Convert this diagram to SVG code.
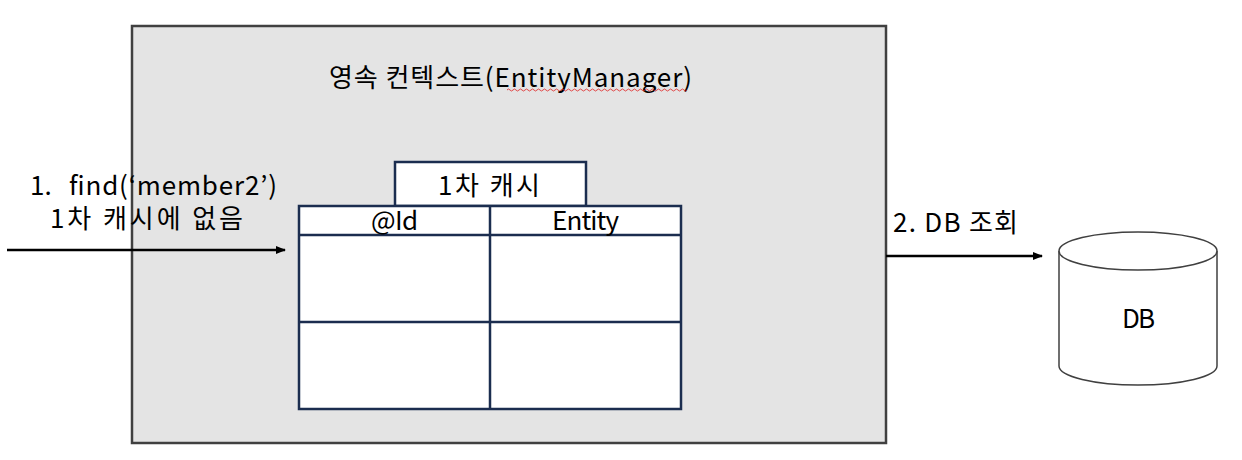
<svg xmlns="http://www.w3.org/2000/svg" width="1242" height="460" viewBox="0 0 1242 460">
<style>
text{font-family:"Noto Sans CJK KR","Noto Sans",sans-serif;font-size:26px;fill:#000}
.tbl{fill:#fff;stroke:#1b2d4f;stroke-width:2.5}
.ln{stroke:#1b2d4f;stroke-width:2.5;fill:none}
.conn{stroke:#000;stroke-width:2.5;fill:none}
</style>
<defs>
<marker id="ah" markerWidth="10" markerHeight="8" refX="9" refY="4" orient="auto" markerUnits="userSpaceOnUse">
<path d="M0,0 L10,4 L0,8 Z" fill="#000"/>
</marker>
</defs>
<rect width="1242" height="460" fill="#fff"/>
<g id="context">
<rect x="132" y="26" width="754" height="417" fill="#e4e4e4" stroke="#404040" stroke-width="2.5"/>
<text x="329" y="87" textLength="363">영속 컨텍스트(EntityManager)</text>
<path d="M507,90 q1.5,-2 3,0 t3,0 t3,0 t3,0 t3,0 t3,0 t3,0 t3,0 t3,0 t3,0 t3,0 t3,0 t3,0 t3,0 t3,0 t3,0 t3,0 t3,0 t3,0 t3,0 t3,0 t3,0 t3,0 t3,0 t3,0 t3,0 t3,0 t3,0 t3,0 t3,0 t3,0 t3,0 t3,0 t3,0 t3,0 t3,0 t3,0 t3,0 t3,0 t3,0 t3,0 t3,0 t3,0 t3,0 t3,0 t3,0 t3,0 t3,0 t3,0 t3,0 t3,0 t3,0 t3,0 t3,0 t3,0 t3,0 t3,0 t3,0 t3,0 t3,0" fill="none" stroke="#e02020" stroke-width="0.8"/>
</g>
<g id="cache">
<rect x="395" y="162" width="191" height="44" class="tbl"/>
<text x="438" y="195" textLength="102">1차 캐시</text>
<rect x="299" y="206" width="382" height="203" class="tbl"/>
<line x1="299" y1="235" x2="681" y2="235" class="ln"/>
<line x1="299" y1="322" x2="681" y2="322" class="ln"/>
<line x1="490" y1="206" x2="490" y2="409" class="ln"/>
<text x="371" y="230" textLength="47">@Id</text>
<text x="552" y="230" textLength="67">Entity</text>
</g>
<g id="db">
<path d="M1059,251 L1059,366 A79,19 0 0 0 1217,366 L1217,251" fill="#fff" stroke="#404040" stroke-width="1.5"/>
<ellipse cx="1138" cy="251" rx="79" ry="19" fill="#fff" stroke="#404040" stroke-width="1.5"/>
<text x="1122" y="328" textLength="33">DB</text>
</g>
<g id="connectors">
<line x1="7" y1="250" x2="285" y2="250" class="conn" marker-end="url(#ah)"/>
<line x1="886" y1="256" x2="1042" y2="256" class="conn" marker-end="url(#ah)"/>
</g>
<g id="labels">
<text x="30" y="195">1.<tspan x="69" textLength="208">find(‘member2’)</tspan></text>
<text x="50" y="228" textLength="193">1차 캐시에 없음</text>
<text x="893" y="232" textLength="125">2. DB 조회</text>
</g>
</svg>
